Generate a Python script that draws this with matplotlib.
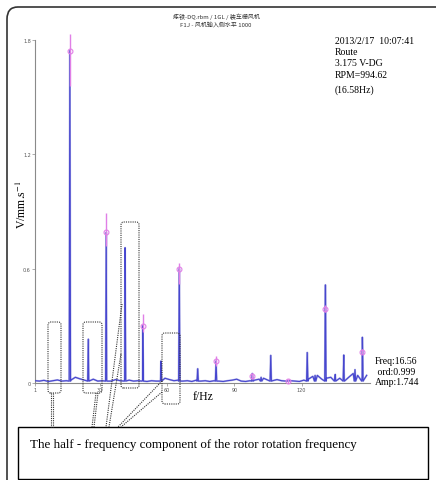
import matplotlib.pyplot as plt
from matplotlib.lines import Line2D
from matplotlib.patches import FancyBboxPatch, Rectangle

# noise floor of the spectrum (Hz, mm/s)
base_freq = [1, 3, 5, 7, 9, 11, 13, 15, 17, 19, 21, 23, 25, 27, 29, 31, 33, 35, 37, 39,
             41, 43, 45, 47, 49, 51, 53, 55, 57, 59, 61, 63, 65, 67, 69, 71, 73, 75, 77, 79,
             81, 83, 85, 87, 89, 91, 93, 95, 97, 99, 101, 103, 105, 107, 109, 111, 113, 115,
             117, 119, 121, 123, 125, 127, 129, 131, 133, 135, 137, 139, 141, 143, 145, 147, 149]
base_amp = [0.012, 0.010, 0.014, 0.008, 0.012, 0.016, 0.010, 0.012, 0.015, 0.030,
            0.022, 0.015, 0.012, 0.020, 0.010, 0.012, 0.015, 0.010, 0.018, 0.012,
            0.020, 0.015, 0.010, 0.012, 0.015, 0.008, 0.012, 0.010, 0.015, 0.025,
            0.018, 0.012, 0.015, 0.010, 0.012, 0.008, 0.015, 0.010, 0.012, 0.008,
            0.012, 0.010, 0.008, 0.012, 0.015, 0.020, 0.010, 0.008, 0.012, 0.015,
            0.020, 0.025, 0.015, 0.012, 0.018, 0.012, 0.010, 0.012, 0.010, 0.008,
            0.015, 0.020, 0.035, 0.040, 0.020, 0.025, 0.030, 0.045, 0.025, 0.020,
            0.030, 0.050, 0.040, 0.030, 0.040]

# spectral lines
peak_freq = [16.56, 24.8, 32.8, 41.2, 49.1, 57.2, 65.4, 73.6, 81.8, 98.0, 101.9, 106.2,
             122.5, 126.0, 130.6, 134.9, 138.8, 143.8, 147.1]
peak_amp = [1.744, 0.23, 0.79, 0.71, 0.30, 0.115, 0.60, 0.075, 0.115, 0.05, 0.03, 0.145,
            0.16, 0.04, 0.515, 0.04, 0.147, 0.07, 0.24]

# harmonic cursor markers (1X..9X)
mark_freq = [16.56, 32.8, 49.1, 65.4, 81.8, 98.0, 114.0, 130.6, 147.1]
mark_amp = [1.744, 0.79, 0.30, 0.60, 0.115, 0.035, 0.012, 0.39, 0.165]
mark_lo = [1.56, 0.72, 0.27, 0.52, 0.09, 0.02, 0.0, 0.37, 0.15]
mark_hi = [1.83, 0.89, 0.36, 0.63, 0.14, 0.055, 0.02, 0.41, 0.18]

yticks = [0, 0.6, 1.2, 1.8]
ytick_labels = ["0", "0.6", "1.2", "1.8"]
xticks = [1, 30, 60, 90, 120]

info_lines = ["2013/2/17  10:07:41", "Route", "3.175 V-DG", "RPM=994.62", "(16.58Hz)"]
cursor_lines = ["Freq:16.56", " ord:0.999", "Amp:1.744"]
title_lines = ["炼铁-DQ.rbm / 1GL / 装车栅风机", "F1J - 风机输入侧水平 1000"]
note = "The half - frequency component of the rotor rotation frequency"

W, H = 436, 481
def fx(x):
    return x / W
def fy(y):
    return 1 - y / H

# merge floor + spikes into one trace
pts = list(zip(base_freq, base_amp))
for f, a in zip(peak_freq, peak_amp):
    pts += [(f - 0.3, 0.01), (f, a), (f + 0.3, 0.01)]
pts.sort()
fr = [p[0] for p in pts]
am = [p[1] for p in pts]

fig = plt.figure(figsize=(W / 100, H / 100), dpi=100)
fig.patch.set_facecolor("white")

ax = fig.add_axes([fx(35), fy(384), (370 - 35) / W, (384 - 41) / H])
ax.plot(fr, am, color="#b4b4e6", lw=1.4, zorder=2)
ax.plot(fr, am, color="#4646cf", lw=0.8, zorder=3)
ax.vlines(mark_freq, mark_lo, mark_hi, color="#e07fe6", lw=1.0, zorder=4, clip_on=False)
ax.plot(mark_freq, mark_amp, "o", ms=3.5, mfc="none", mec="#e07fe6", mew=0.8, zorder=5, clip_on=False)

ax.set_xlim(1, 150.5)
ax.set_ylim(0, 1.8)
ax.set_xticks(xticks)
ax.set_yticks(yticks)
ax.set_yticklabels(ytick_labels)
for s in ["top", "right"]:
    ax.spines[s].set_visible(False)
for s in ["left", "bottom"]:
    ax.spines[s].set_color("#8a8a8a")
    ax.spines[s].set_linewidth(0.8)
ax.tick_params(length=2, width=0.5, colors="#8a8a8a", labelsize=3.5, pad=1, labelcolor="#555555")

serif = "Liberation Serif"
fig.text(fx(22), fy(205), "V/mm.s$^{-1}$", rotation=90, ha="center", va="center",
         fontsize=8.5, family=serif, math_fontfamily="stix")
fig.text(fx(203), fy(397), "f/Hz", ha="center", va="center", fontsize=8.5, family=serif)

for i, t in enumerate(title_lines):
    fig.text(fx(216), fy(17 + 8 * i), t, ha="center", va="center", fontsize=4.3,
             family=["Noto Sans CJK SC", "DejaVu Sans"], color="#333333")

for t, y in zip(info_lines, [42, 53, 63, 76, 90]):
    fig.text(fx(335), fy(y), t, ha="left", va="center", fontsize=7, family=serif)

for i, t in enumerate(cursor_lines):
    fig.text(fx(375), fy(362 + 10.5 * i), t, ha="left", va="center", fontsize=7, family=serif)

# outer rounded frame (cut by the image edges)
fig.add_artist(FancyBboxPatch((fx(7), fy(520)), fx(470), 512 / H,
                              boxstyle="round,pad=0,rounding_size=0.025",
                              transform=fig.transFigure, fill=False,
                              ec="#333333", lw=1.2, clip_on=False))

# dotted callout boxes
for x0, y0, x1, y1 in [(48, 323, 61, 394), (83, 323, 102, 394),
                       (121, 223, 139, 389), (162, 334, 180, 405)]:
    fig.add_artist(FancyBboxPatch((fx(x0), fy(y1)), fx(x1 - x0), (y1 - y0) / H,
                                  boxstyle="round,pad=0,rounding_size=0.006",
                                  transform=fig.transFigure, fill=False,
                                  ec="#333333", lw=0.8, ls=(0, (1, 1))))

for xa, ya, xb, yb in [(51, 394, 51, 428), (53, 394, 53, 428),
                       (96, 394, 92, 428), (98, 394, 94, 428),
                       (122, 305, 106, 428), (121, 355, 109, 428),
                       (162, 382, 118, 428), (162, 393, 121, 428)]:
    fig.add_artist(Line2D([fx(xa), fx(xb)], [fy(ya), fy(yb)], transform=fig.transFigure,
                          color="#333333", lw=0.8, ls=(0, (1, 1))))

# note box
fig.add_artist(Rectangle((fx(18), fy(480)), fx(410), 52 / H, transform=fig.transFigure,
                         fc="white", ec="black", lw=1.0))
fig.text(fx(30), fy(445), note, ha="left", va="center", fontsize=9.4, family=serif)

fig.savefig("out.png", dpi=100)
